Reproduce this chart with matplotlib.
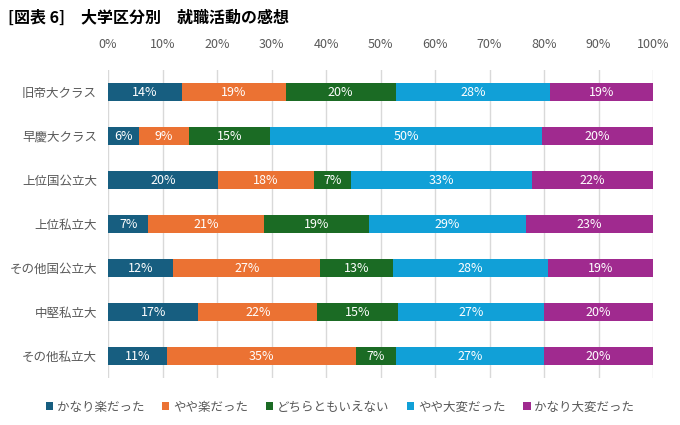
import matplotlib
matplotlib.use("Agg")
import matplotlib.pyplot as plt
import numpy as np

plt.rcParams['font.family'] = ['Noto Sans CJK JP', 'DejaVu Sans']

categories = ['旧帝大クラス', '早慶大クラス', '上位国公立大', '上位私立大',
              'その他国公立大', '中堅私立大', 'その他私立大']
series_names = ['かなり楽だった', 'やや楽だった', 'どちらともいえない',
                'やや大変だった', 'かなり大変だった']
very_easy = [13.6, 5.6, 20.1, 7.4, 12.0, 16.6, 10.9]
rather_easy = [19.0, 9.3, 17.7, 21.3, 26.9, 21.8, 34.6]
neutral = [20.2, 14.8, 6.8, 19.1, 13.4, 14.9, 7.3]
rather_hard = [28.3, 50.0, 33.2, 28.9, 28.5, 26.7, 27.2]
very_hard = [18.9, 20.3, 22.2, 23.3, 19.3, 20.0, 20.0]
colors = ['#175e80', '#eb7233', '#1b6b24', '#11a0d7', '#a02a8f']

series = [very_easy, rather_easy, neutral, rather_hard, very_hard]

fig = plt.figure(figsize=(6.8, 4.25), dpi=100)
ax = fig.add_axes([108 / 680, 1 - 378 / 425, 545 / 680, 308 / 425])

y = np.arange(len(categories))
left = np.zeros(len(categories))
handles = []
for name, vals, c in zip(series_names, series, colors):
    vals = np.array(vals)
    b = ax.barh(y, vals, left=left, height=0.4, color=c, label=name, zorder=3)
    handles.append(b)
    for yi, l, v in zip(y, left, vals):
        ax.text(l + v / 2, yi, f'{v:.0f}%', ha='center', va='center',
                color='white', fontsize=9, zorder=4)
    left += vals

ax.set_xlim(0, 100)
ax.set_ylim(len(categories) - 0.5, -0.5)
ax.set_xticks(np.arange(0, 101, 10))
ax.set_xticklabels([f'{t}%' for t in range(0, 101, 10)])
ax.xaxis.tick_top()
ax.tick_params(axis='x', length=0, pad=14, labelsize=9, labelcolor='#595959')
ax.set_yticks(y)
ax.set_yticklabels(categories)
ax.tick_params(axis='y', length=0, pad=8, labelsize=9, labelcolor='#595959')
ax.grid(axis='x', color='#d9d9d9', linewidth=1, zorder=0)
for s in ax.spines.values():
    s.set_visible(False)

fig.text(8 / 680, 1 - 18 / 425, '[図表 6]　大学区分別　就職活動の感想', fontsize=11.5,
         fontweight='bold', va='center', ha='left', color='#000000')

fig.legend(handles=handles, loc='center', bbox_to_anchor=(0.5, 1 - 407 / 425),
           ncol=5, frameon=False, fontsize=9, handlelength=0.6, handleheight=0.6,
           handletextpad=0.3, columnspacing=1.4, labelcolor='#595959')

fig.savefig('out.png', dpi=100)
